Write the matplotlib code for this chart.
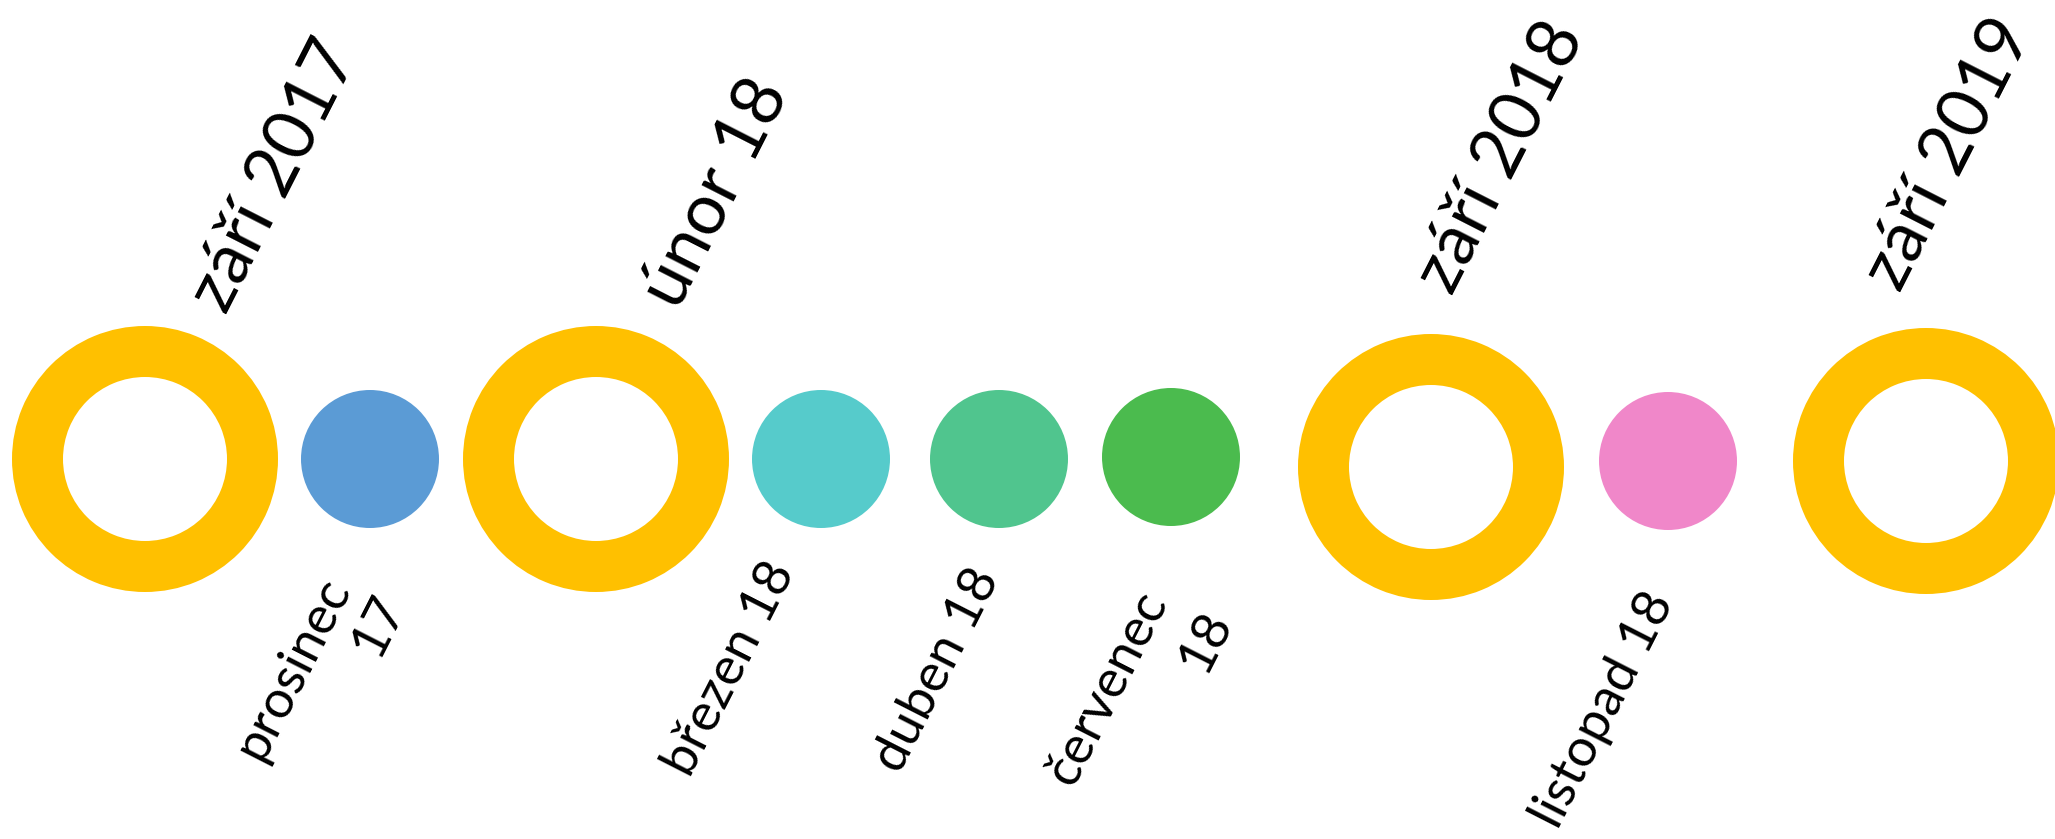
import matplotlib
matplotlib.use("Agg")
import matplotlib.pyplot as plt
from matplotlib.patches import Annulus, Circle

# ---- data ----
labels = ["září 2017", "prosinec\n17", "únor 18", "březen 18", "duben 18",
          "červenec\n18", "září 2018", "listopad 18", "září 2019"]
kinds = ["milestone", "month", "milestone", "month", "month",
         "month", "milestone", "month", "milestone"]
pos_x = [145, 370, 596, 821, 999, 1171, 1431, 1668, 1926]
pos_y = [459, 459, 459, 459, 459, 457, 467, 461, 461]

# ---- styles / layout ----
colors = ["#FFC000", "#5B9BD5", "#FFC000", "#56CBCB", "#50C58E",
          "#4BBB4E", "#FFC000", "#F087C9", "#FFC000"]
# offsets (per text line) from the mark centre, in pixels
line_offsets = [
    [(130, -283)],
    [(-77, 210), (9, 166)],
    [(120, -266)],
    [(-91, 210)],
    [(-62, 211)],
    [(-63, 231), (35, 184)],
    [(70, -310)],
    [(-65, 249)],
    [(23, -307)],
]

W, H = 2055, 839
fig = plt.figure(figsize=(W / 100, H / 100), dpi=100)
ax = fig.add_axes([0, 0, 1, 1])
ax.set_xlim(0, W)
ax.set_ylim(H, 0)
ax.set_aspect("equal")
ax.axis("off")

font = ["Lato", "DejaVu Sans"]
for lab, k, x, y, c, offs in zip(labels, kinds, pos_x, pos_y, colors, line_offsets):
    if k == "milestone":
        ax.add_patch(Annulus((x, y), 133, 51, color=c, lw=0))
        fs = 51
    else:
        ax.add_patch(Circle((x, y), 69, color=c, lw=0))
        fs = 38
    for line, (dx, dy) in zip(lab.split("\n"), offs):
        ax.text(x + dx, y + dy, line, rotation=63, rotation_mode="anchor",
                ha="center", va="center",
                fontsize=fs, family=font, color="black")

fig.savefig("out.png", dpi=100)
